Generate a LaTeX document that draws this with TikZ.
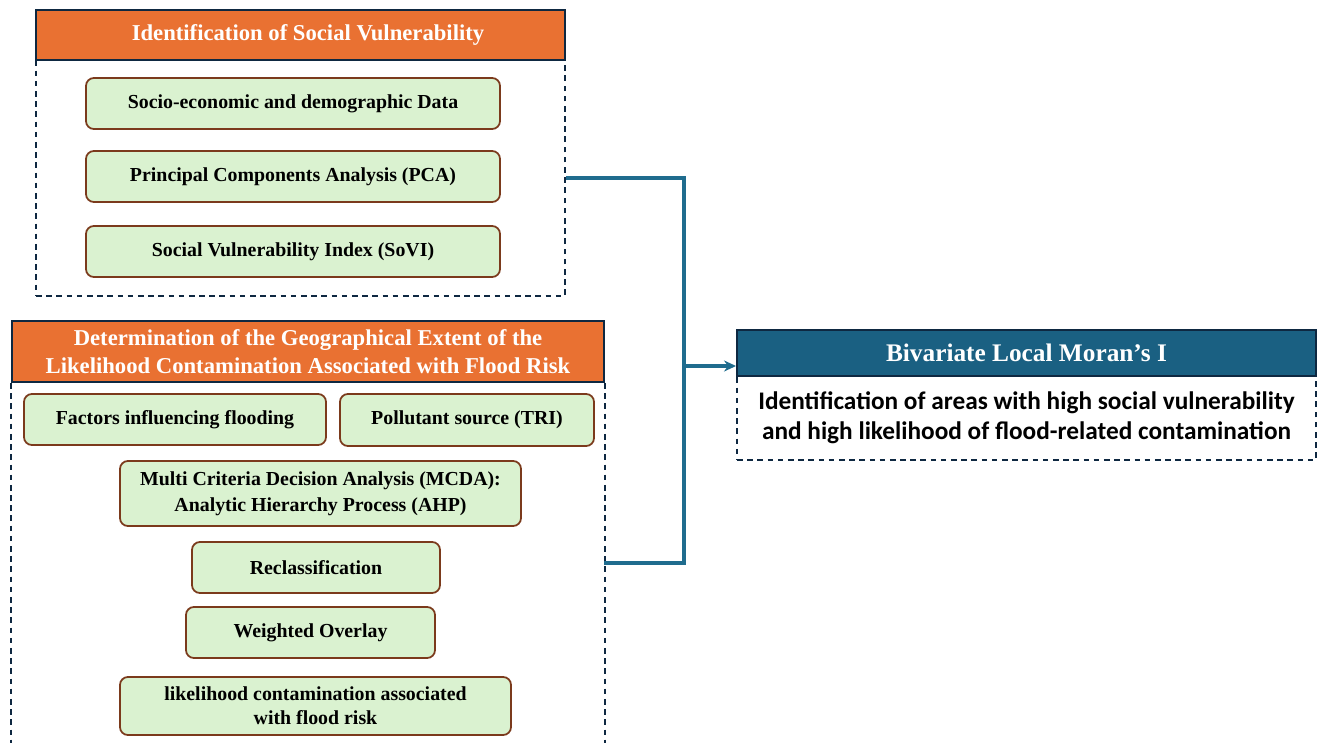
\documentclass[tikz,border=0pt]{standalone}
\usepackage{fontspec}
\setmainfont{Liberation Serif}
\newfontfamily\carlito{Carlito}
\usepackage{xcolor}
\usepackage{tikz}
\usetikzlibrary{arrows.meta, positioning}

\definecolor{headorange}{HTML}{E97132}
\definecolor{headnavy}{HTML}{0E2841}
\definecolor{stepgreen}{HTML}{DAF2D0}
\definecolor{stepbrown}{HTML}{7B3A1C}
\definecolor{moranblue}{HTML}{1A6082}
\definecolor{linkblue}{HTML}{1F6C8E}

\begin{document}
\begin{tikzpicture}[
      header/.style={draw=headnavy, line width=1.1pt, fill=headorange, text=white,
                  align=center, font=\fontsize{12.9}{15.8}\selectfont\bfseries, inner sep=2pt},
      panel/.style={draw=headnavy, dashed, dash pattern=on 3.2pt off 2.6pt, line width=0.9pt},
      stepbox/.style={draw=stepbrown, line width=1pt, rounded corners=4.5pt, fill=stepgreen,
                  align=center, font=\fontsize{11.3}{14.6}\selectfont\bfseries, inner sep=2pt},
      moranhead/.style={draw=headnavy, line width=1.1pt, fill=moranblue, text=white,
                  align=center, font=\fontsize{14.4}{16}\selectfont\bfseries},
      arrow/.style={-{Stealth[length=2.4mm, width=2.2mm]}, draw=linkblue, line width=2.1pt},
      link/.style={draw=linkblue, line width=2.1pt}
    ]
    \useasboundingbox (0,0) rectangle (26.42,-14.84);

    % social vulnerability
    \node[header, minimum width=10.58cm, minimum height=1cm] (sochead) at (6.01,-0.70)
      {\hspace*{0.3cm}Identification of Social Vulnerability};
    \node[panel, minimum width=10.58cm, minimum height=4.72cm] (socpanel) at (6.01,-3.56) {};
    \node[stepbox, minimum width=8.28cm, minimum height=1.02cm] (socdata) at (5.86,-2.07)
      {Socio-economic and demographic Data};
    \node[stepbox, minimum width=8.28cm, minimum height=1.02cm] (pca) at (5.86,-3.53)
      {Principal Components Analysis (PCA)};
    \node[stepbox, minimum width=8.28cm, minimum height=1.02cm] (sovi) at (5.86,-5.03)
      {Social Vulnerability Index (SoVI)};

    % flood contamination
    \node[header, minimum width=11.84cm, minimum height=1.22cm] (floodhead) at (6.16,-7.03)
      {Determination of the Geographical Extent of the\\Likelihood Contamination Associated with Flood Risk};
    \draw[panel] (floodhead.south west) -- ++(0,-7.5);
    \draw[panel] (floodhead.south east) -- ++(0,-7.5);
    \node[stepbox, minimum width=6.04cm, minimum height=1.02cm] (factors) at (3.50,-8.39)
      {Factors influencing flooding};
    \node[stepbox, minimum width=5.08cm, minimum height=1.04cm] (tri) at (9.34,-8.40)
      {Pollutant source (TRI)};
    \node[stepbox, minimum width=8.02cm, minimum height=1.30cm] (mcda) at (6.41,-9.87)
      {Multi Criteria Decision Analysis (MCDA):\\Analytic Hierarchy Process (AHP)};
    \node[stepbox, minimum width=4.96cm, minimum height=1.02cm] (reclass) at (6.32,-11.35)
      {Reclassification};
    \node[stepbox, minimum width=4.98cm, minimum height=1.02cm] (overlay) at (6.21,-12.65)
      {Weighted Overlay};
    \node[stepbox, minimum width=7.82cm, minimum height=1.16cm,
          font=\fontsize{11.3}{13.7}\selectfont\bfseries] (likely) at (6.31,-14.12)
      {likelihood contamination associated\\with flood risk};

    % bivariate moran
    \node[moranhead, minimum width=11.58cm, minimum height=0.92cm] (morhead) at (20.53,-7.06)
      {Bivariate Local Moran's I};
    \node[panel, minimum width=11.58cm, minimum height=1.68cm, align=center,
          font=\carlito\fontsize{14.4}{17.2}\selectfont\bfseries] (morpanel) at (20.53,-8.36)
      {Identification of areas with high social vulnerability\\and high likelihood of flood-related contamination};

    \coordinate (floodout) at (12.08,-11.26);
    \coordinate (join) at (13.68,-7.32);
    \draw[link] (socpanel.east) -| (join) |- (floodout);
    \draw[arrow] (join) -- (join -| morhead.west);
  \end{tikzpicture}
\end{document}
